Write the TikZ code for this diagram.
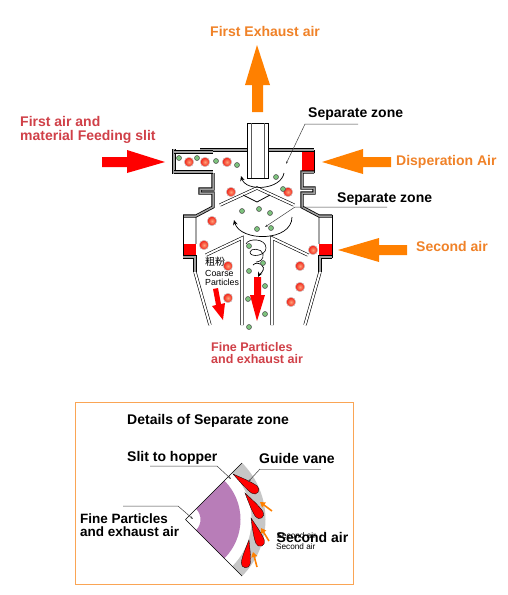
\documentclass[tikz,border=0pt]{standalone}
\usepackage{fontspec}
\setmainfont{Liberation Sans}
\newfontfamily\cjkf{Noto Sans CJK JP}
\usetikzlibrary{arrows.meta}
\definecolor{org}{RGB}{255,128,0}
\definecolor{redlab}{RGB}{208,64,72}
\definecolor{orglab}{RGB}{240,130,40}
\definecolor{boxorg}{RGB}{250,165,85}
\definecolor{pur}{RGB}{184,125,184}
\definecolor{partr}{RGB}{240,30,20}
\definecolor{parti}{RGB}{255,160,120}
\definecolor{partg}{RGB}{125,195,125}
\tikzset{
 x=1pt,y=-1pt,
 wall/.style={draw=black,line width=.8pt,double=gray!75,double distance=1.5pt,line join=miter},
 dwall/.style={draw=black,line width=.6pt,double=white,double distance=2pt,line join=miter},
 thinw/.style={draw=gray!70,line width=1.6pt},
 redp/.style={circle,draw=gray!40,line width=.5pt,inner sep=0,minimum size=9.5pt,inner color=parti,outer color=partr},
 grnp/.style={circle,draw=gray!60!black,line width=.5pt,inner sep=0,minimum size=5pt,fill=partg},
 lab/.style={inner sep=0,font=\fontsize{14}{14}\selectfont\bfseries,align=left},
 lead/.style={draw=black!75,line width=.5pt},
 flow/.style={draw=black,line width=.7pt,-{Stealth[length=5pt,width=4.5pt]}},
 vanes/.style={fill=red,draw=black,line width=.3pt},
}
\newcommand{\myvane}[4]{%
 \begin{scope}[shift={(#1,#2)},rotate=#4]
 \draw[vanes] (0,0) .. controls (.3*#3,2) and (.6*#3,4.5) .. (#3-4.5,4.5) .. controls (#3-1.8,4.5) and (#3,2.3) .. (#3,0) .. controls (#3,-2.3) and (#3-1.8,-4.5) .. (#3-4.5,-4.5) .. controls (.6*#3,-4.5) and (.3*#3,-2) .. (0,0) -- cycle;
 \end{scope}}
\begin{document}
\begin{tikzpicture}
\useasboundingbox (0,0) rectangle (508,595);
\fill[white] (0,0) rectangle (508,595);
% big arrows
\fill[org] (257,45) -- (270,85) -- (263,85) -- (263,112) -- (252,112) -- (252,85) -- (245,85) -- cycle;
\fill[red] (165,162) -- (127,150) -- (127,157) -- (102,157) -- (102,167) -- (127,167) -- (127,173) -- cycle;
\fill[org] (322,162) -- (363,149) -- (363,157) -- (391,157) -- (391,167) -- (363,167) -- (363,174) -- cycle;
\fill[org] (338,250) -- (379,238) -- (379,245) -- (407,245) -- (407,255) -- (379,255) -- (379,262) -- cycle;
% red blocks
\fill[red] (302,152) rectangle (314,171);
\fill[red] (183,244) rectangle (196,256);
\fill[red] (319,244) rectangle (332,256);
% vessel walls
\draw[thinw] (196,216) -- (196,244);
\draw[thinw] (319,216) -- (319,244);
\draw[wall] (200,150) -- (314,150);
\draw[line width=.9pt] (314,150) -- (314,172.5);
\draw[wall] (314,172) -- (302,172) -- (302,188) -- (314,188) -- (314,193) -- (302,193) -- (302,207) -- (319,216) -- (332,216);
\draw[line width=.9pt] (332,215) -- (332,257.5);
\draw[wall] (332,257) -- (320,257) -- (320,272);
\draw[wall] (213,173) -- (213,189) -- (200,189) -- (200,193) -- (213,193) -- (213,207) -- (196,216) -- (183,216);
\draw[line width=.9pt] (183,215) -- (183,257.5);
\draw[wall] (183,257) -- (195,257) -- (195,272);
\draw[wall] (174,149) -- (174,174);
\draw[wall] (174,152) -- (213,152);
\draw[wall] (174,172) -- (213,172);
\draw[dwall] (195,272) -- (210,325);
\draw[dwall] (320,272) -- (305,325);
\draw[dwall] (242,325) -- (242,238) -- (206,255);
\draw[dwall] (272,325) -- (272,238) -- (308,255);
\draw[dwall] (220,205) -- (257,188) -- (294,205);
\draw[draw=black,line width=.8pt] (243,195) -- (257,202) -- (270,195);
% exhaust pipe
\fill[white] (247.5,123) rectangle (268,178);
\draw[line width=.9pt] (247.5,123) rectangle (268,178);
\draw[draw=black!65,line width=.7pt] (251,123) -- (251,177.5) (264.5,123) -- (264.5,177.5);
% flows
\draw[flow] (284,173) .. controls (281,190) and (246,192) .. (241,176);
\draw[flow] (292,217) .. controls (292,242) and (240,242) .. (234,220);
\draw[line width=.6pt] (246,244) .. controls (248,238) and (266,238) .. (266,248) .. controls (266,256) and (250,258) .. (250,252) .. controls (250,248) and (262,248) .. (263,254) .. controls (264,259) and (260,262) .. (256,262);
\draw[flow] (253,265) .. controls (258,260) and (267,266) .. (262,272) .. controls (261,274) and (259,275) .. (258,277);
% particles
\foreach \n/\p in {a/{189,162},b/{205,162},c/{227,162},d/{231,192},e/{288,192},f/{212,221},g/{204,245},h/{313,250},i/{228,266},j/{300,266},k/{300,287},l/{291,302},m/{228,298}}
 \node[redp] (r\n) at (\p) {};
\foreach \n/\p in {a/{179,158},b/{197,158},c/{216,161},d/{237,165},e/{276,177},f/{283,189},g/{242,211},h/{259,209},i/{270,213},j/{257,229},k/{271,228},l/{249,246},m/{263,263},n/{249,271},o/{265,286},p/{248,299},q/{265,314},r/{249,327}}
 \node[grnp] (g\n) at (\p) {};
% small red arrows
\fill[red] (254,277) -- (261,277) -- (261,295) -- (265,295) -- (257,321) -- (250,295) -- (254,295) -- cycle;
\fill[red] (213,289) -- (218,288) -- (221,304) -- (225,303) -- (223,320) -- (212,306) -- (216,305) -- cycle;
% labels top
\node[lab,text=orglab,anchor=west] (l1) at (210,31) {First Exhaust air};
\node[lab,text=redlab,anchor=west] (l2) at (20,130) {First air and\\material Feeding slit};
\node[lab,anchor=west] (l3) at (308,114) {Separate zone};
\node[lab,anchor=west] (l4) at (337,199) {Separate zone};
\node[lab,text=orglab,anchor=west] (l5) at (396,162) {Disperation Air};
\node[lab,text=orglab,anchor=west] (l6) at (416,246) {Second air};
\node[lab,text=redlab,anchor=west,font=\fontsize{12.5}{12}\selectfont\bfseries] (l7) at (211,353) {Fine Particles\\and exhaust air};
\coordinate (t1) at (286,164);
\coordinate (t2) at (265,227);
\coordinate (t3) at (295,207);
\coordinate (t4) at (305,124);
\coordinate (t5) at (358,124);
\coordinate (t6) at (387,207);
\draw[lead,-{Stealth[length=3pt,width=2pt]}] (t5) -- (t4) -- (t1);
\draw[lead,-{Stealth[length=3pt,width=2pt]}] (t6) -- (t3) -- (t2);
\node[inner sep=0,anchor=west,font=\fontsize{10}{10}\cjkf] (l8) at (205,262) {粗粉};
\node[inner sep=0,anchor=west,font=\fontsize{8.8}{9.5}\selectfont,align=left] (l9) at (205,278) {Coarse\\Particles};
% detail box
\node[draw=boxorg,line width=1.2pt,minimum width=278pt,minimum height=182pt,inner sep=0,anchor=north west] (box) at (75,402) {};
\node[lab,anchor=west] (d0) at (127,421) {Details of Separate zone};
\coordinate (ap) at (185.5,519.5);
\begin{scope}[y=1pt]
\fill[gray!45] (ap) -- ++(45:80) arc (45:-45:80) -- cycle;
\fill[white] (ap) -- ++(45:66) arc (45:-45:66) -- cycle;
\fill[pur] (ap) ++(45:15) -- ++(45:40) arc (45:-45:55) -- ++(135:40) arc (-45:45:15) -- cycle;
\draw[line width=.5pt] (ap) -- ++(45:80) (ap) -- ++(-45:80);
\end{scope}
\myvane{233}{474}{31}{-36}
\myvane{245}{493}{30}{-56}
\myvane{251}{518}{30}{-69}
\myvane{249}{540}{28}{-98}
\foreach \a/\b in {{272,511}/{260,502},{269,541}/{261,528},{257,567}/{253,552}}
 \draw[org,line width=1.6pt,-{Triangle[length=5pt,width=6pt]}] (\a) -- (\b);
\node[lab,anchor=west] (d1) at (127,458) {Slit to hopper};
\node[lab,anchor=west] (d2) at (259,458) {Guide vane};
\node[lab,anchor=west,font=\fontsize{13.5}{13}\selectfont\bfseries] (d3) at (80,525) {Fine Particles\\and exhaust air};
\node[lab,anchor=west] (d4) at (276.5,537) {Second air};
\node[inner sep=0,anchor=west,font=\fontsize{8.2}{8}\selectfont] (d4b) at (276.5,536) {Second air};
\node[inner sep=0,anchor=west,font=\fontsize{8.2}{8}\selectfont] (d5) at (276,547) {Second air};
\coordinate (e0) at (150,466);
\coordinate (e01) at (217,466);
\coordinate (e1) at (231,479);
\coordinate (e2) at (193,519);
\coordinate (e20) at (123,506);
\coordinate (e21) at (178,506);
\coordinate (e3) at (248,482);
\coordinate (e30) at (321,469);
\coordinate (e31) at (260,469);
\draw[lead,-{Stealth[length=3pt,width=2pt]}] (e0) -- (e01) -- (e1);
\draw[lead,-{Stealth[length=3pt,width=2pt]}] (e20) -- (e21) -- (e2);
\draw[draw=gray!70,line width=.7pt] (e30) -- (e31);
\draw[lead,-{Stealth[length=3pt,width=2pt]}] (e31) -- (e3);
\end{tikzpicture}
\end{document}
